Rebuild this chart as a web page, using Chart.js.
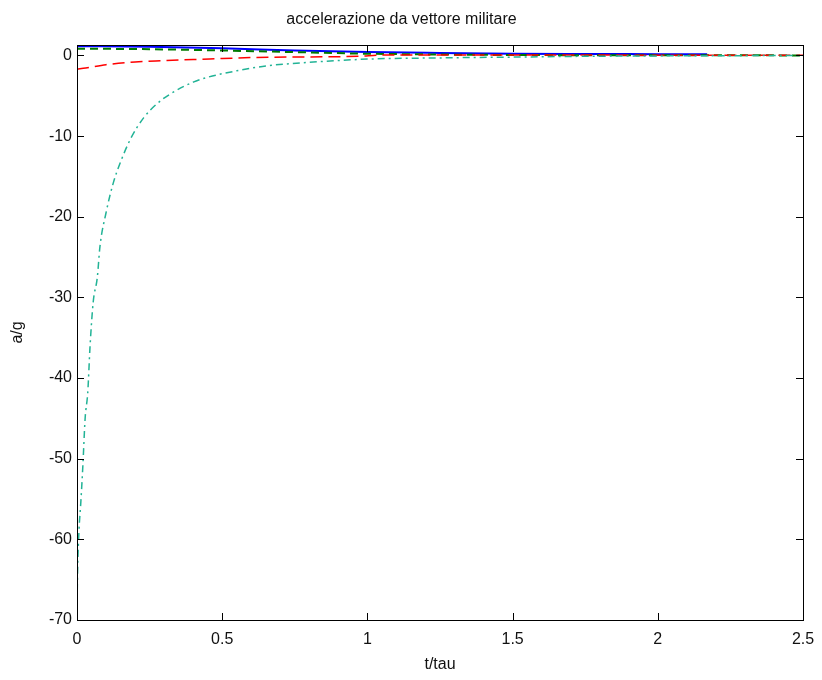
<!DOCTYPE html>
<html>
<head>
<meta charset="utf-8">
<script src="https://cdn.jsdelivr.net/npm/chart.js@4"></script>
<style>
  body { margin: 0; background: #fff; }
  canvas { display: block; }
</style>
</head>
<body>
<canvas id="accChart" width="822" height="680"></canvas>
<script>
// dati (t/tau, a/g)
const tBlue = [0, 0.25, 0.5, 0.75, 1.0, 1.25, 1.5, 1.75, 2.0, 2.17];
const aBlue = [1.15, 1.08, 0.9, 0.62, 0.42, 0.31, 0.23, 0.19, 0.16, 0.14];

const tGreen = [0, 0.25, 0.5, 0.75, 1.0, 1.25, 1.5, 2.0, 2.5];
const aGreen = [0.85, 0.78, 0.62, 0.42, 0.22, 0.12, 0.06, 0.03, 0.01];

const tRed = [0, 0.03, 0.1, 0.2, 0.3, 0.4, 0.5, 0.6, 0.8, 0.97, 1.05, 1.5, 2.0, 2.5];
const aRed = [-1.7, -1.55, -1.14, -0.8, -0.64, -0.5, -0.38, -0.25, -0.18, -0.1, 0.05, 0.06, 0.04, 0.03];

const tTeal = [0, 0.002, 0.007, 0.013, 0.02, 0.028, 0.037, 0.045, 0.056, 0.07, 0.079, 0.1, 0.125,
               0.15, 0.185, 0.23, 0.275, 0.32, 0.4, 0.45, 0.55, 0.65, 0.8, 1.0, 1.25, 1.5, 1.75, 2.0, 2.5];
const aTeal = [-68.5, -64, -58.8, -55.5, -51, -45, -41.8, -36, -30.5, -27.5, -23.7, -19.5, -15.8,
               -13.2, -10.3, -7.7, -6.0, -4.8, -3.3, -2.7, -1.9, -1.3, -0.85, -0.45, -0.3, -0.2, -0.1, -0.05, 0];

const xTicks = [0, 0.5, 1, 1.5, 2, 2.5];
const yTicks = [-70, -60, -50, -40, -30, -20, -10, 0];

function pts(t, a) {
    return t.map((v, i) => ({ x: v, y: a[i] }));
}

// cornice e tacche verso l'interno, stile MATLAB
const boxTicks = {
    id: 'boxTicks',
    afterDraw(chart) {
        const ctx = chart.ctx;
        const area = chart.chartArea;
        const xs = chart.scales.x;
        const ys = chart.scales.y;
        const len = 7;
        ctx.save();
        ctx.strokeStyle = '#000';
        ctx.lineWidth = 1;
        ctx.beginPath();
        xTicks.forEach(v => {
            const px = Math.round(xs.getPixelForValue(v)) + 0.5;
            ctx.moveTo(px, area.bottom);
            ctx.lineTo(px, area.bottom - len);
            ctx.moveTo(px, area.top);
            ctx.lineTo(px, area.top + len);
        });
        yTicks.forEach(v => {
            const py = Math.round(ys.getPixelForValue(v)) + 0.5;
            ctx.moveTo(area.left, py);
            ctx.lineTo(area.left + len, py);
            ctx.moveTo(area.right, py);
            ctx.lineTo(area.right - len, py);
        });
        ctx.stroke();
        ctx.strokeRect(Math.round(area.left) + 0.5, Math.round(area.top) + 0.5,
                       Math.round(area.right - area.left), Math.round(area.bottom - area.top));
        ctx.restore();
    }
};

const ctx = document.getElementById('accChart').getContext('2d');
new Chart(ctx, {
    type: 'line',
    data: {
        datasets: [
            {
                data: pts(tTeal, aTeal),
                borderColor: '#22b396',
                borderWidth: 1.5,
                borderDash: [7, 4, 2, 4]
            },
            {
                data: pts(tRed, aRed),
                borderColor: '#ff0000',
                borderWidth: 1.5,
                borderDash: [12, 6]
            },
            {
                data: pts(tGreen, aGreen),
                borderColor: '#007a00',
                borderWidth: 2,
                borderDash: [8, 5]
            },
            {
                data: pts(tBlue, aBlue),
                borderColor: '#0000ff',
                borderWidth: 2
            }
        ]
    },
    options: {
        responsive: false,
        animation: false,
        parsing: false,
        elements: {
            point: { radius: 0 },
            line: { cubicInterpolationMode: 'monotone', fill: false }
        },
        layout: { padding: { left: 0, right: 19, top: 0, bottom: 0 } },
        plugins: {
            legend: { display: false },
            tooltip: { enabled: false },
            title: {
                display: true,
                text: 'accelerazione da vettore militare',
                color: '#111',
                font: { family: 'Liberation Sans', size: 16, weight: 'normal' },
                padding: { top: 10, bottom: 15.8 }
            }
        },
        scales: {
            x: {
                type: 'linear',
                min: 0,
                max: 2.5,
                afterBuildTicks: s => { s.ticks = xTicks.map(v => ({ value: v })); },
                afterFit: s => { s.height = 60; s.paddingLeft = 0; s.paddingRight = 0; },
                grid: { display: false, drawTicks: false },
                border: { display: false },
                ticks: {
                    color: '#111',
                    padding: 10,
                    font: { family: 'Liberation Sans', size: 16 },
                    callback: v => String(v)
                },
                title: {
                    display: true,
                    text: 't/tau',
                    color: '#111',
                    font: { family: 'Liberation Sans', size: 16 },
                    padding: { top: 4, bottom: 6 }
                }
            },
            y: {
                type: 'linear',
                min: -70,
                max: 1.3,
                afterBuildTicks: s => { s.ticks = yTicks.map(v => ({ value: v })); },
                afterFit: s => { s.width = 77; },
                grid: { display: false, drawTicks: false },
                border: { display: false },
                ticks: {
                    color: '#111',
                    padding: 5,
                    font: { family: 'Liberation Sans', size: 16 },
                    callback: v => String(v)
                },
                title: {
                    display: true,
                    text: 'a/g',
                    color: '#111',
                    font: { family: 'Liberation Sans', size: 16 },
                    padding: { top: 8, bottom: 0 }
                }
            }
        }
    },
    plugins: [boxTicks]
});
</script>
</body>
</html>
